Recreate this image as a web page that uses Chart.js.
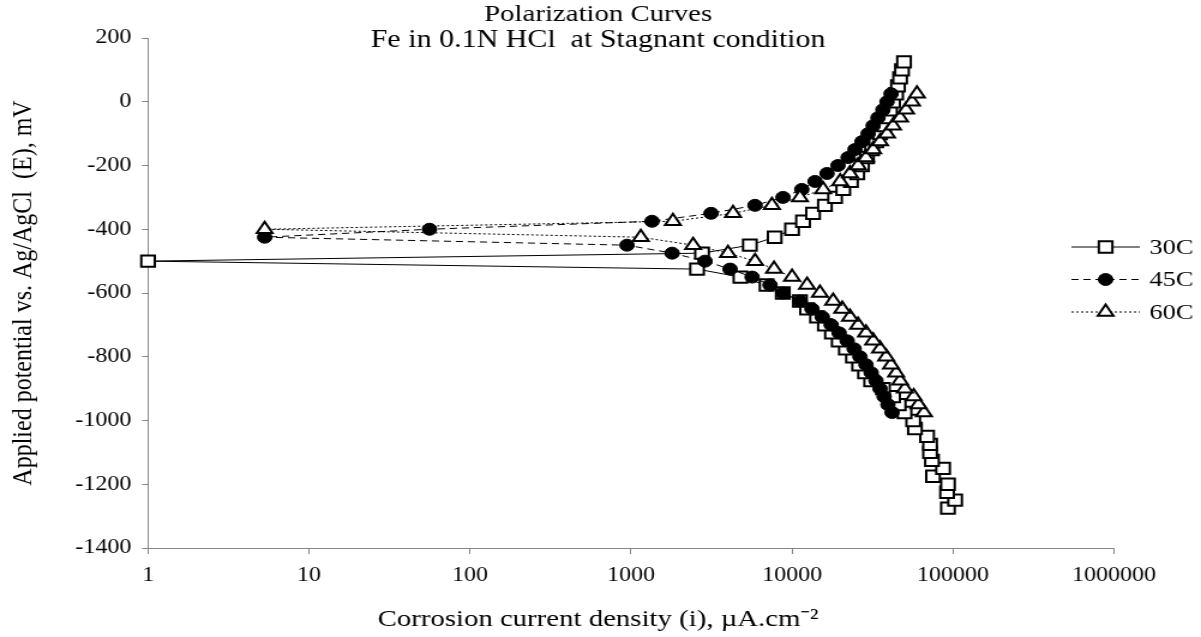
<!DOCTYPE html>
<html>
<head>
<meta charset="utf-8">
<script src="https://cdn.jsdelivr.net/npm/chart.js@4.4.1/dist/chart.umd.min.js"></script>
<style>
  html, body { margin: 0; padding: 0; background: #fff; overflow: hidden; }
  /* the original picture is a bit wider than tall, so the whole chart is stretched sideways */
  #wrap { width: 1001px; height: 637px; transform: scaleX(1.1998); transform-origin: 0 0; }
</style>
</head>
<body>
<div id="wrap"><canvas id="chart" width="1001" height="637"></canvas></div>
<script>
// chart text
const titleLines = ["Polarization Curves", "Fe in 0.1N HCl  at Stagnant condition"]
const xTitle = "Corrosion current density (i), \u00b5A.cm\u207b\u00b2"
const yTitle = "Applied potential vs. Ag/AgCl  (E), mV"
const xTicks = [1, 10, 100, 1000, 10000, 100000, 1000000]
const yTicks = [-1400, -1200, -1000, -800, -600, -400, -200, 0, 200]

// 30C : potential (mV) and current density (uA/cm2)
const e30 = [-1275, -1250, -1225, -1200, -1175, -1150, -1125, -1100, -1075, -1050, -1025, -1000,
    -975, -950, -925, -900, -875, -850, -825, -800, -775, -750, -725, -700, -675, -650, -625, -600,
    -575, -550, -525, -500, -475, -450, -425, -400, -375, -350, -325, -300, -275, -250, -225, -200,
    -175, -150, -125, -100, -75, -50, -25, 0, 25, 50, 75, 100, 125]
const i30 = [93000, 103000, 91800, 93000, 75100, 86700, 74000, 72000, 72000, 69000, 58000, 56600,
    50000, 46000, 42400, 36700, 31000, 28400, 26100, 23900, 21600, 19500, 17700, 16000, 14300, 12400, 11200, 8760,
    6950, 4780, 2570, 1, 2760, 5470, 7800, 10000, 11700, 13500, 16000, 18500, 20800, 23200, 25400, 27200,
    29200, 31400, 33300, 35200, 37300, 38900, 40600, 42400, 44300, 45500, 46900, 48200, 49600]

// 45C
const e45 = [-975, -950, -925, -900, -875, -850, -825, -800, -775, -750, -725, -700, -675, -650, -625,
    -600, -575, -550, -525, -500, -475, -450, -425, -400, -375, -350, -325, -300, -275, -250, -225, -200,
    -175, -150, -125, -100, -75, -50, -25, 0, 25]
const i45 = [41800, 39400, 37300, 35200, 33200, 31000, 28800, 26400, 24300, 22000, 19600, 17500, 15400, 13300, 11200,
    8790, 7300, 5650, 4120, 2880, 1800, 944, 5.3, 56, 1350, 3140, 5890, 8790, 11500, 13900, 16500, 19300,
    22300, 24600, 27200, 29700, 31900, 34200, 36700, 38900, 41200]

// 60C
const e60 = [-975, -950, -925, -900, -875, -850, -825, -800, -775, -750, -725, -700, -675, -650, -625,
    -600, -575, -550, -525, -500, -475, -450, -425, -400, -375, -350, -325, -300, -275, -250, -225, -200,
    -175, -150, -125, -100, -75, -50, -25, 0, 25]
const i60 = [66000, 61000, 57000, 50200, 46900, 44300, 41200, 38400, 35200, 31900, 28800, 25700, 22900, 20500, 18000,
    14900, 12400, 10000, 7730, 5890, 4000, 2430, 1150, 5.3, 1820, 4300, 7500, 11200, 15600, 19900, 22900, 25700,
    28800, 31900, 35200, 38900, 42400, 46900, 51100, 55600, 59700]

const serif = "'Liberation Serif', 'Times New Roman', serif"
Chart.defaults.font.family = serif
Chart.defaults.color = "#000"

const toPoints = (xs, ys) => xs.map((x, k) => ({ x: x, y: ys[k] }))

// chart title and x axis title sit centred on the whole picture, over the plot
const header = {
    id: "header",
    afterDraw(chart) {
        const ctx = chart.ctx
        const cx = chart.width / 2 - 2
        ctx.save()
        ctx.fillStyle = "#000"
        ctx.textAlign = "center"
        ctx.textBaseline = "middle"
        ctx.font = "24px " + serif
        ctx.fillText(titleLines[0], cx, 15)
        ctx.font = "25px " + serif
        ctx.fillText(titleLines[1], cx, 40)
        ctx.font = "24px " + serif
        ctx.fillText(xTitle, cx, 620)
        ctx.restore()
    },
}

// legend at the right: line sample with marker, then label
const sideLegend = {
    id: "sideLegend",
    afterDraw(chart) {
        const ctx = chart.ctx
        chart.data.datasets.forEach((ds, k) => {
            const y = 247 + k * 32.5
            ctx.save()
            ctx.strokeStyle = "#000"
            ctx.lineWidth = 1
            ctx.setLineDash(ds.borderDash || [])
            ctx.beginPath()
            ctx.moveTo(893, y)
            ctx.lineTo(950, y)
            ctx.stroke()
            ctx.setLineDash([])
            ctx.fillStyle = ds.pointBackgroundColor
            ctx.strokeStyle = ds.pointBorderColor
            ctx.lineWidth = ds.pointBorderWidth
            Chart.helpers.drawPoint(ctx, {
                pointStyle: ds.pointStyle,
                radius: ds.pointRadius,
                borderWidth: ds.pointBorderWidth,
                rotation: 0,
            }, 921.5, y)
            ctx.fillStyle = "#000"
            ctx.font = "22px " + serif
            ctx.textAlign = "left"
            ctx.textBaseline = "middle"
            ctx.fillText(ds.label, 958, y + 1)
            ctx.restore()
        })
    },
}

new Chart(document.getElementById("chart"), {
    type: "line",
    data: {
        datasets: [
            {
                label: "30C",
                data: toPoints(i30, e30),
                borderColor: "#000",
                borderWidth: 1,
                pointStyle: "rect",
                pointRadius: 8,
                pointBorderWidth: 2,
                pointBackgroundColor: "#fff",
                pointBorderColor: "#000",
                order: 3,
                clip: false,
            },
            {
                label: "45C",
                data: toPoints(i45, e45),
                borderColor: "#000",
                borderWidth: 1,
                borderDash: [6, 4],
                pointStyle: "circle",
                pointRadius: 6,
                pointBorderWidth: 1,
                pointBackgroundColor: "#000",
                pointBorderColor: "#000",
                order: 2,
                clip: false,
            },
            {
                label: "60C",
                data: toPoints(i60, e60),
                borderColor: "#000",
                borderWidth: 1,
                borderDash: [2, 2],
                pointStyle: "triangle",
                pointRadius: 7.5,
                pointBorderWidth: 2,
                pointBackgroundColor: "#fff",
                pointBorderColor: "#000",
                order: 1,
                clip: false,
            },
        ],
    },
    options: {
        responsive: false,
        animation: false,
        layout: { padding: { top: 38, right: 72.5, left: 0, bottom: 0 } },
        plugins: {
            legend: { display: false },
            tooltip: { enabled: false },
        },
        scales: {
            x: {
                type: "logarithmic",
                min: 1,
                max: 1000000,
                afterBuildTicks: (scale) => {
                    scale.ticks = xTicks.map((v) => ({ value: v }))
                },
                afterFit: (scale) => {
                    scale.height = 89
                },
                ticks: {
                    autoSkip: false,
                    maxRotation: 0,
                    padding: 10,
                    font: { size: 20 },
                    callback: (v) => String(v),
                },
                grid: { display: true, drawOnChartArea: false, tickLength: 6, color: "#868686" },
                border: { display: true, color: "#868686" },
                title: { display: false },
            },
            y: {
                min: -1400,
                max: 200,
                afterBuildTicks: (scale) => {
                    scale.ticks = yTicks.map((v) => ({ value: v }))
                },
                afterFit: (scale) => {
                    scale.width = 123.4
                },
                ticks: { padding: 9, font: { size: 20 }, callback: (v) => String(v) },
                grid: { display: true, drawOnChartArea: false, tickLength: 5, color: "#868686" },
                border: { display: true, color: "#868686" },
                title: { display: true, text: yTitle, font: { size: 24 }, padding: { top: 5, bottom: 4 } },
            },
        },
    },
    plugins: [header, sideLegend],
})
</script>
</body>
</html>
